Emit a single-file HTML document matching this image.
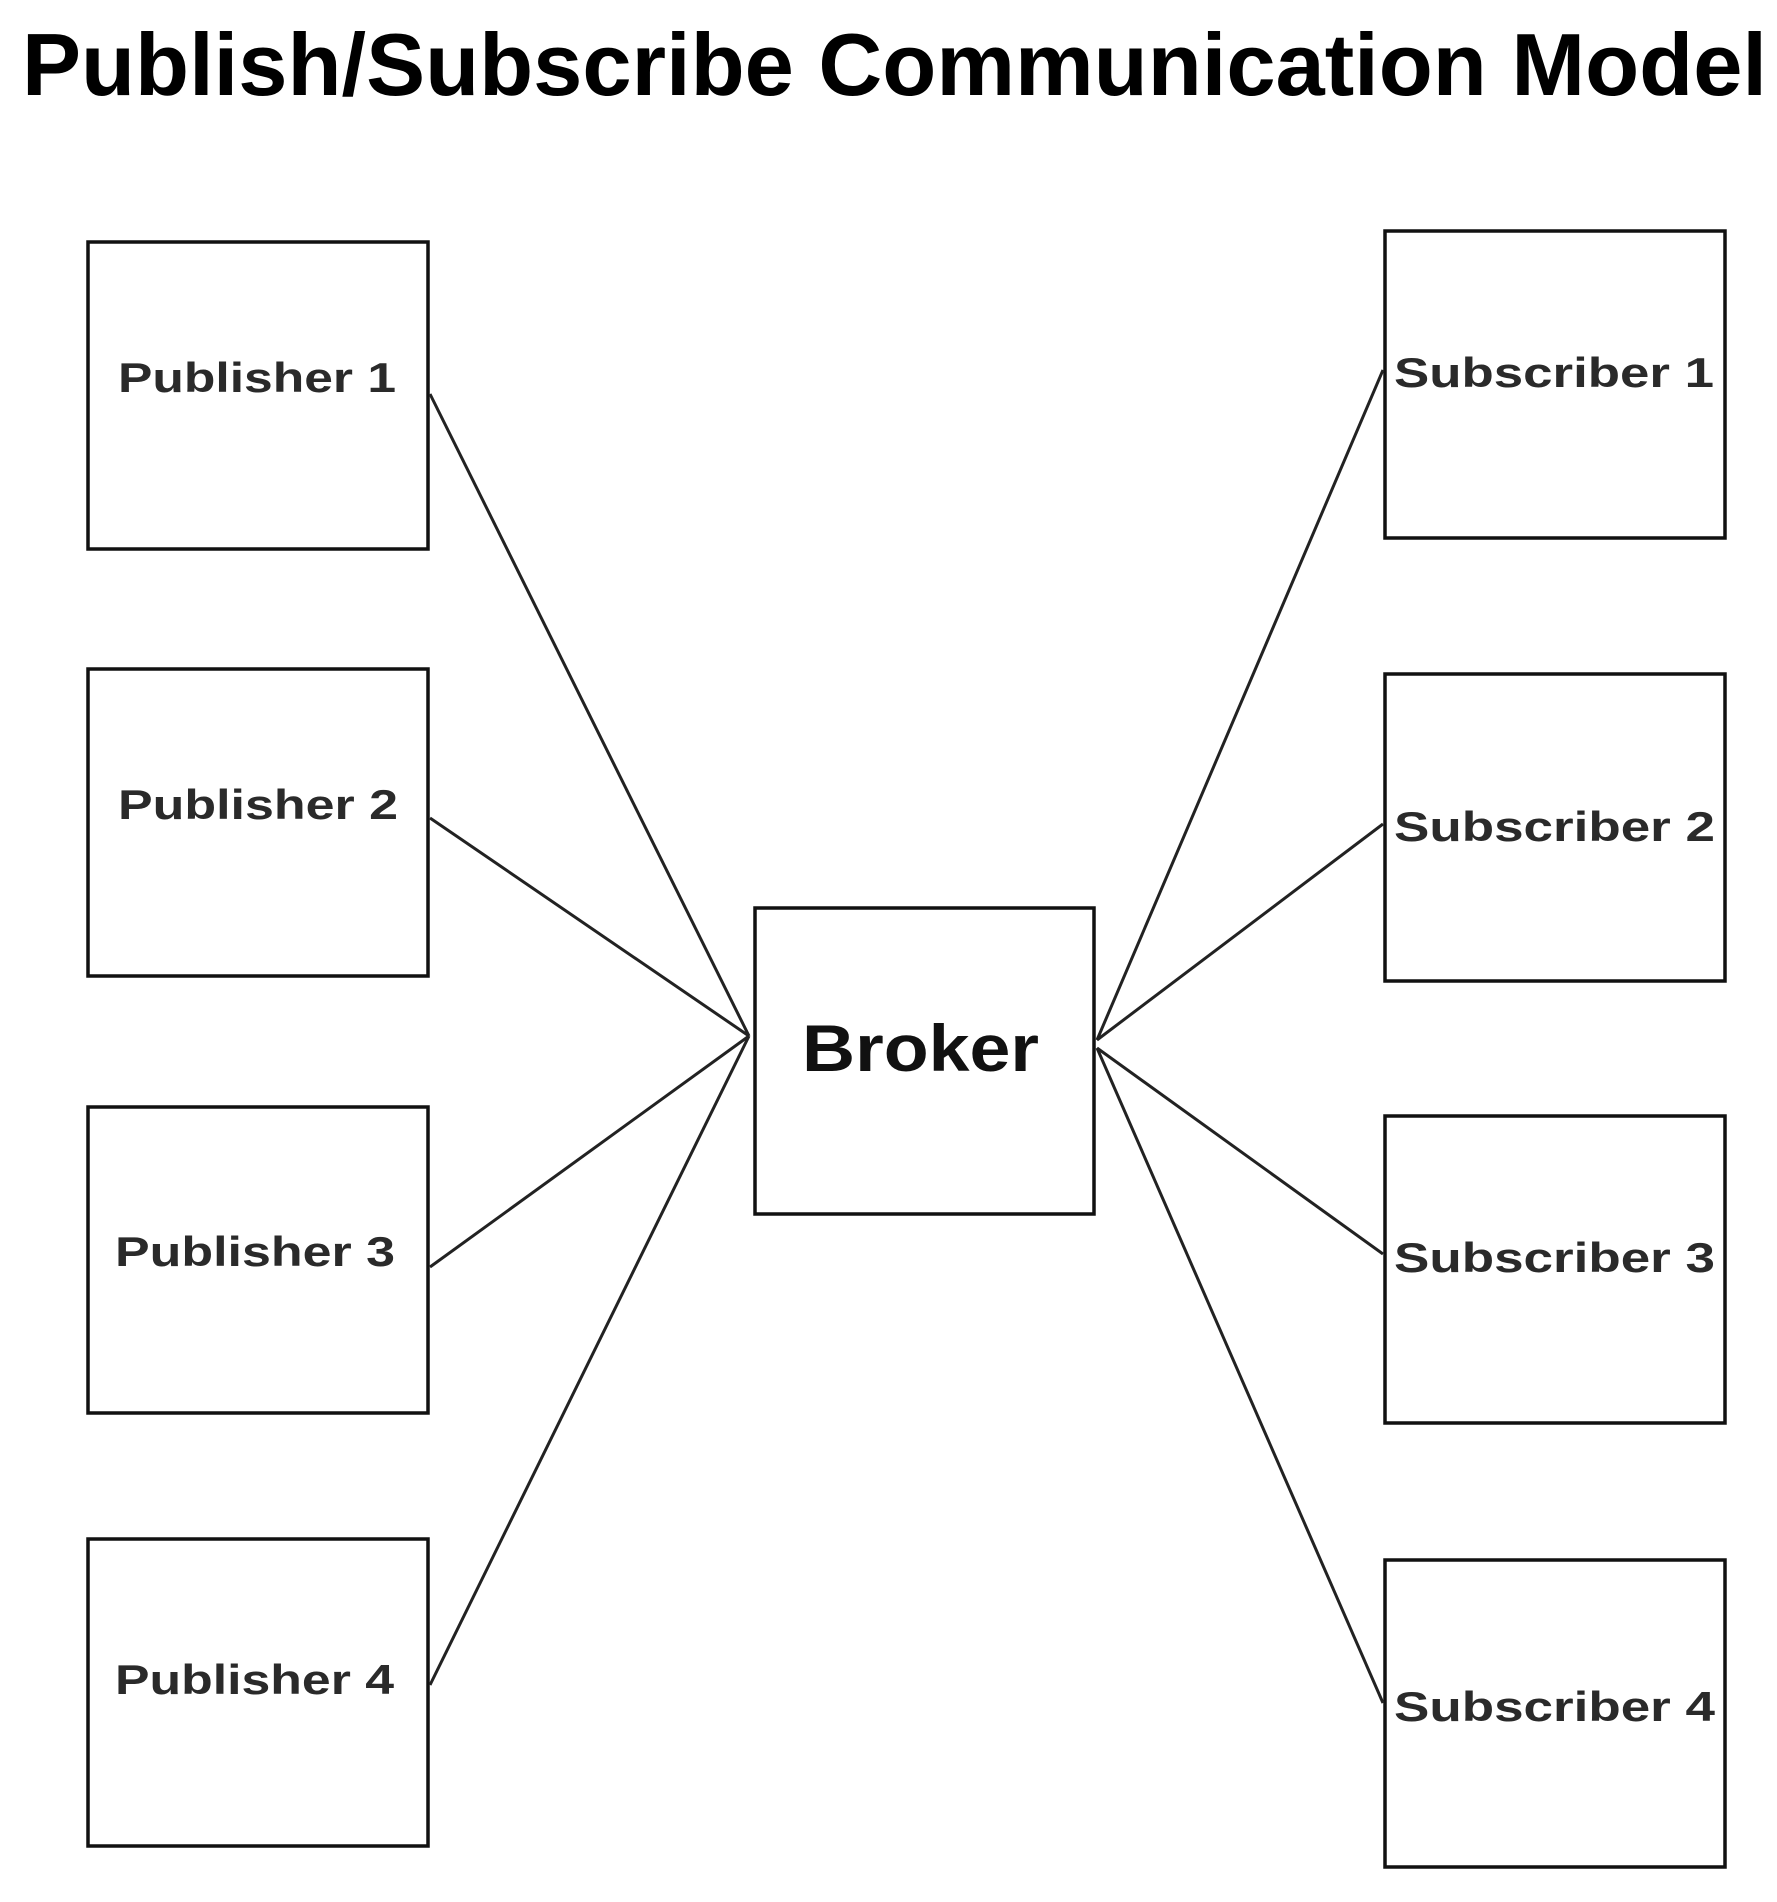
<!DOCTYPE html>
<html><head><meta charset="utf-8"><style>html,body{margin:0;padding:0;background:#fff}svg{display:block}</style></head>
<body>
<svg width="1777" height="1902" viewBox="0 0 1777 1902" xmlns="http://www.w3.org/2000/svg">
<text x="22" y="95" font-family="Liberation Sans, sans-serif" font-weight="bold" font-size="88" fill="#000" textLength="1745" lengthAdjust="spacingAndGlyphs">Publish/Subscribe Communication Model</text>
<g fill="none" stroke="#111" stroke-width="3.5">
<rect x="88" y="242" width="340" height="307"/>
<rect x="88" y="669" width="340" height="307"/>
<rect x="88" y="1107" width="340" height="306"/>
<rect x="88" y="1539" width="340" height="307"/>
<rect x="1385" y="231" width="340" height="307"/>
<rect x="1385" y="674" width="340" height="307"/>
<rect x="1385" y="1116" width="340" height="307"/>
<rect x="1385" y="1560" width="340" height="307"/>
<rect x="755" y="908" width="339" height="306"/>
</g>
<g stroke="#222" stroke-width="3">
<line x1="430" y1="394" x2="749" y2="1036"/>
<line x1="430" y1="818" x2="749" y2="1036"/>
<line x1="430" y1="1267" x2="749" y2="1036"/>
<line x1="430" y1="1685" x2="749" y2="1036"/>
<line x1="1097" y1="1040" x2="1383" y2="370"/>
<line x1="1097" y1="1040" x2="1383" y2="824"/>
<line x1="1097" y1="1048" x2="1383" y2="1254"/>
<line x1="1097" y1="1048" x2="1383" y2="1703"/>
</g>
<g font-family="Liberation Sans, sans-serif" font-weight="bold" font-size="42" fill="#2a2a2a" text-anchor="start">
<text x="118" y="392" textLength="278" lengthAdjust="spacingAndGlyphs">Publisher 1</text>
<text x="118" y="819" textLength="280" lengthAdjust="spacingAndGlyphs">Publisher 2</text>
<text x="115" y="1266" textLength="280" lengthAdjust="spacingAndGlyphs">Publisher 3</text>
<text x="115" y="1694" textLength="279" lengthAdjust="spacingAndGlyphs">Publisher 4</text>
<text x="1394" y="387" textLength="320" lengthAdjust="spacingAndGlyphs">Subscriber 1</text>
<text x="1394" y="841" textLength="321" lengthAdjust="spacingAndGlyphs">Subscriber 2</text>
<text x="1394" y="1272" textLength="321" lengthAdjust="spacingAndGlyphs">Subscriber 3</text>
<text x="1394" y="1721" textLength="321" lengthAdjust="spacingAndGlyphs">Subscriber 4</text>
</g>
<text x="802" y="1071" font-family="Liberation Sans, sans-serif" font-weight="bold" font-size="66" fill="#111" textLength="237" lengthAdjust="spacingAndGlyphs">Broker</text>
</svg>
</body></html>
